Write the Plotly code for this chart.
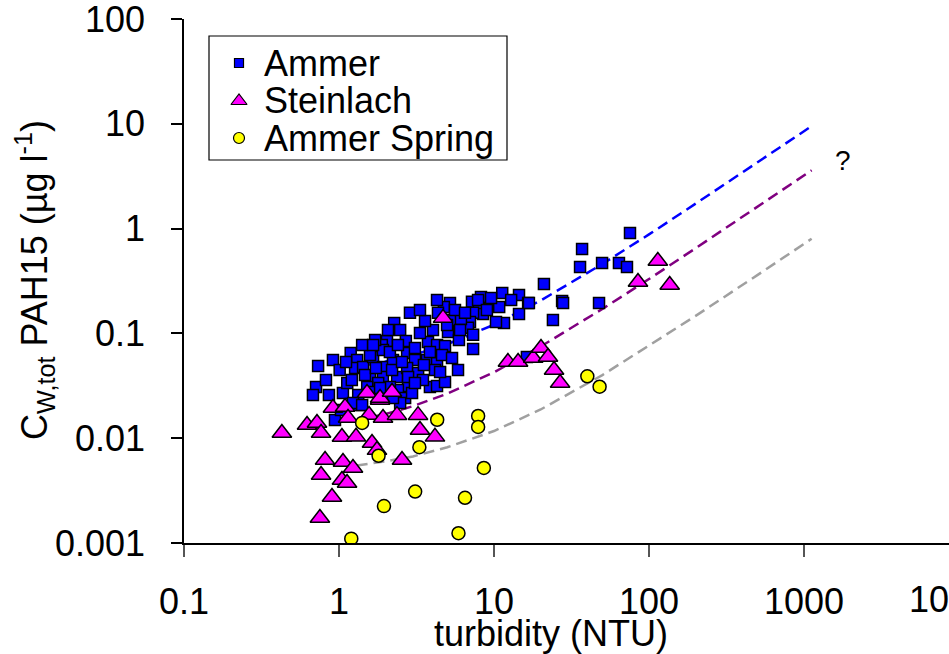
import plotly.graph_objects as go

# ---------------- data ----------------
ammer_turbidity = [11.3, 14.5, 16.6, 10.8, 14.5, 11.6, 8.24, 7.21, 8.0, 8.49,
                   7.33, 7.0, 6.79, 7.33, 7.33, 5.20, 4.75, 4.35, 5.43, 6.12,
                   5.05, 4.04, 3.59, 2.87, 2.27, 2.48, 2.70, 3.75, 4.29, 4.83,
                   2.04, 1.89, 1.19, 0.914, 0.733, 0.711, 0.679, 0.861, 1.06, 1.13,
                   1.31, 1.27, 1.43, 1.66, 1.92, 2.23, 1.92, 1.585, 2.37, 2.75,
                   3.09, 3.70, 4.29, 2.75, 3.24, 4.16, 3.86, 4.29, 4.83, 2.79,
                   2.40, 2.79, 2.13, 1.79, 1.52, 1.33, 1.33, 2.67, 2.48, 5.86,
                   1.23, 0.942, 3.09, 1.92, 1.585, 4.62,
                   1.41, 1.71, 2.13, 2.40, 3.33, 3.86, 4.98, 5.60, 6.50, 7.89,
                   9.0, 5.94, 5.36, 4.49, 3.48, 2.96, 2.23, 1.66, 1.47, 1.21,
                   1.01, 1.11, 1.73, 2.20, 2.55, 3.53, 3.09, 1.84, 2.07, 1.66,
                   6.04, 9.57, 12.9, 10.3, 4.29, 3.33, 1.41, 1.03, 0.824,
                   75.4, 37.0, 35.9, 49.8, 64.0, 72.1, 21.0, 16.8, 27.5, 27.9,
                   24.0, 47.6, 16.3]
ammer_pah = [0.243, 0.232, 0.195, 0.179, 0.153, 0.126, 0.222, 0.200, 0.175, 0.153,
             0.157, 0.1285, 0.113, 0.097, 0.071, 0.195, 0.179, 0.157, 0.134, 0.137,
             0.103, 0.108, 0.131, 0.157, 0.126, 0.108, 0.0845, 0.083, 0.0775, 0.076,
             0.0845, 0.0775, 0.065, 0.0557, 0.0489, 0.0308, 0.0258, 0.0258, 0.027, 0.0336,
             0.0557, 0.0468, 0.0478, 0.0596, 0.0478, 0.0557, 0.0384, 0.0384, 0.0384, 0.065,
             0.0557, 0.0557, 0.0522, 0.0468, 0.0419, 0.0448, 0.0308, 0.0315, 0.0344, 0.0315,
             0.0288, 0.0384, 0.0308, 0.0336, 0.0308, 0.0258, 0.0207, 0.0242, 0.0217, 0.0448,
             0.0217, 0.0149, 0.0726, 0.0695, 0.0622, 0.0622,
             0.0775, 0.0865, 0.0664, 0.0775, 0.101, 0.0664, 0.120, 0.167, 0.157, 0.208,
             0.167, 0.0865, 0.0582, 0.0428, 0.0359, 0.0270, 0.0242, 0.0276, 0.0401, 0.0359,
             0.0448, 0.0533, 0.0468, 0.0448, 0.0533, 0.0499, 0.0336, 0.0301, 0.108, 0.0775,
             0.108, 0.218, 0.208, 0.1285, 0.208, 0.167, 0.0207, 0.0186, 0.0359,
             0.908, 0.638, 0.431, 0.470, 0.470, 0.431, 0.296, 0.195, 0.204, 0.195,
             0.134, 0.195, 0.0596]

steinlach_turbidity = [0.428, 0.622, 0.721, 0.766, 0.914, 1.094, 1.143, 1.045, 1.288, 1.563,
                       1.923, 2.366, 1.84, 1.633, 1.758, 3.235, 3.33, 4.16, 2.55, 0.813,
                       1.061, 1.231, 0.766, 1.045, 1.127, 0.901, 0.753, 4.69, 1.516, 1.84,
                       2.198, 12.3, 14.3, 17.9, 20.1, 22.3, 24.4, 26.7, 114, 84.9, 136]
steinlach_pah = [0.0112, 0.01336, 0.01396, 0.0112, 0.0194, 0.01986, 0.0156, 0.01026, 0.0103, 0.01665,
                 0.0156, 0.0166, 0.0232, 0.0090, 0.0077, 0.0166, 0.01197, 0.0103, 0.0062, 0.0062,
                 0.00593, 0.0052, 0.00446, 0.00399, 0.00374, 0.00275, 0.00173, 0.140, 0.0270, 0.0242,
                 0.0276, 0.0533, 0.0533, 0.0582, 0.0726, 0.0596, 0.0448, 0.0336, 0.491, 0.309, 0.290]

spring_turbidity = [1.41, 4.3, 7.9, 7.9, 3.3, 1.8, 8.6, 3.1, 6.5, 1.95, 5.9, 1.2, 40, 48]
spring_pah = [0.014, 0.015, 0.0163, 0.0128, 0.0082, 0.0068, 0.0052, 0.0031, 0.0027, 0.00225,
              0.00124, 0.0011, 0.039, 0.031]

# dashed curves
fit_turbidity = [1.2, 2, 3, 5, 10, 20, 50, 100, 200, 500, 1120]
fit_ammer = [0.047, 0.054, 0.062, 0.079, 0.121, 0.206, 0.46, 0.88, 1.73, 4.26, 9.5]
fit_steinlach = [0.0144, 0.0170, 0.0202, 0.0266, 0.0426, 0.075, 0.171, 0.33, 0.65, 1.61, 3.6]
fit_spring_turbidity = [1.3, 2, 3, 5, 10, 20, 50, 100, 200, 500, 1120]
fit_spring = [0.0055, 0.0060, 0.0067, 0.0082, 0.0117, 0.0188, 0.040, 0.076, 0.147, 0.36, 0.80]

x_tick_vals = [0.1, 1, 10, 100, 1000]
x_tick_text = ["0.1", "1", "10", "100", "1000"]
y_tick_vals = [0.001, 0.01, 0.1, 1, 10, 100]
y_tick_text = ["0.001", "0.01", "0.1", "1", "10", "100"]

series_names = ["Ammer", "Steinlach", "Ammer Spring"]

# ---------------- figure ----------------
FONT = "Liberation Sans, Arial, sans-serif"
FS = 36
fig = go.Figure()

dash = "11px,6px"
fig.add_trace(go.Scatter(x=fit_turbidity, y=fit_ammer, mode="lines",
                         line=dict(color="#0000FF", width=2.5, dash=dash), showlegend=False))
fig.add_trace(go.Scatter(x=fit_turbidity, y=fit_steinlach, mode="lines",
                         line=dict(color="#800080", width=2.5, dash=dash), showlegend=False))
fig.add_trace(go.Scatter(x=fit_spring_turbidity, y=fit_spring, mode="lines",
                         line=dict(color="#A0A0A0", width=2.5, dash=dash), showlegend=False))

sq = dict(symbol="square", size=11, color="#0000FF", line=dict(color="black", width=1.5))
tri = dict(symbol="triangle-up", size=17, color="#FF00FF", line=dict(color="black", width=1.5))
cir = dict(symbol="circle", size=13, color="#FFFF00", line=dict(color="black", width=1.5))

fig.add_trace(go.Scatter(x=ammer_turbidity, y=ammer_pah, mode="markers", marker=sq,
                         name=series_names[0], showlegend=False))
fig.add_trace(go.Scatter(x=steinlach_turbidity, y=steinlach_pah, mode="markers", marker=tri,
                         name=series_names[1], showlegend=False))
fig.add_trace(go.Scatter(x=spring_turbidity, y=spring_pah, mode="markers", marker=cir,
                         name=series_names[2], showlegend=False))

# ---- hand-built legend (overlay axes in 0..1 units) ----
L, R, T, B = 184, 949, 19, 543
W, H = R - L, B - T
def px(x):
    return (x - L) / W
def py(y):
    return (B - y) / H

leg_rows = [63, 101, 138]
leg_markers = [dict(symbol="square", size=9, color="#0000FF", line=dict(color="black", width=1.2)),
               dict(symbol="triangle-up", size=14, color="#FF00FF", line=dict(color="black", width=1.2)),
               dict(symbol="circle", size=11, color="#FFFF00", line=dict(color="black", width=1.2))]
for name, row, mk in zip(series_names, leg_rows, leg_markers):
    fig.add_trace(go.Scatter(x=[px(239)], y=[py(row)], mode="markers", marker=mk,
                             xaxis="x2", yaxis="y2", showlegend=False, hoverinfo="skip"))
    fig.add_annotation(x=px(262), y=py(row), xref="paper", yref="paper", text=name,
                       showarrow=False, xanchor="left", yanchor="middle",
                       font=dict(family=FONT, size=FS, color="black"))
fig.add_shape(type="rect", xref="paper", yref="paper",
              x0=px(209), x1=px(507), y0=py(160), y1=py(36),
              line=dict(color="black", width=1.2), fillcolor="rgba(0,0,0,0)", layer="below")

fig.add_annotation(x=px(843), y=py(161), xref="paper", yref="paper", text="?",
                   showarrow=False, xanchor="center", yanchor="middle",
                   font=dict(family=FONT, size=28, color="black"))
# truncated 10000 tick label at the right edge
fig.add_annotation(x=px(959), y=py(599), xref="paper", yref="paper", text="10000",
                   showarrow=False, xanchor="center", yanchor="middle",
                   font=dict(family=FONT, size=FS, color="black"))
# axis titles
fig.add_annotation(x=px(551), y=py(633), xref="paper", yref="paper", text="turbidity (NTU)",
                   showarrow=False, xanchor="center", yanchor="middle",
                   font=dict(family=FONT, size=FS, color="black"))
fig.add_annotation(x=px(34), y=py(280), xref="paper", yref="paper",
                   text="C<sub>W,tot</sub> PAH15 (µg l<sup>-1</sup>)", textangle=-90,
                   showarrow=False, xanchor="center", yanchor="middle",
                   font=dict(family=FONT, size=FS, color="black"))

fig.update_layout(
    width=949, height=654,
    margin=dict(l=L, r=949 - R, t=T, b=654 - B, pad=0),
    paper_bgcolor="white", plot_bgcolor="white",
    font=dict(family=FONT, size=FS, color="black"),
    showlegend=False,
    xaxis=dict(type="log", range=[-1, -1 + W / 155.0], showline=True, linecolor="black",
               linewidth=1.5, ticks="outside", ticklen=12, tickwidth=1.5, tickcolor="#555",
               tickvals=x_tick_vals, ticktext=x_tick_text, showgrid=False, zeroline=False,
               tickfont=dict(family=FONT, size=FS, color="black"), ticklabelstandoff=14,
               ticklabeloverflow="allow"),
    yaxis=dict(type="log", range=[-3, 2], showline=True, linecolor="black",
               linewidth=1.5, ticks="outside", ticklen=11, tickwidth=1.5, tickcolor="black",
               tickvals=y_tick_vals, ticktext=y_tick_text, showgrid=False, zeroline=False,
               tickfont=dict(family=FONT, size=FS, color="black"), ticklabelstandoff=19,
               ticklabeloverflow="allow"),
    xaxis2=dict(overlaying="x", range=[0, 1], visible=False, fixedrange=True),
    yaxis2=dict(overlaying="y", range=[0, 1], visible=False, fixedrange=True),
)

fig.write_html("out.html", config={"displayModeBar": False},
               post_script="document.body.style.margin='0';document.body.style.overflow='hidden';")
